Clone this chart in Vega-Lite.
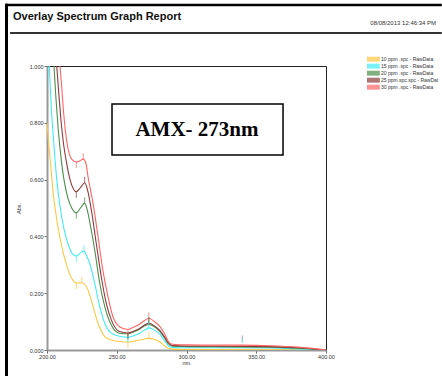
{
  "$schema": "https://vega.github.io/schema/vega-lite/v6.json",
  "width": 279,
  "height": 284,
  "autosize": "none",
  "padding": {"left": 47, "top": 66, "right": 116, "bottom": 26},
  "background": "white",
  "title": {
    "text": "Overlay Spectrum Graph Report",
    "anchor": "start",
    "frame": "group",
    "font": "Liberation Sans",
    "fontSize": 11,
    "fontWeight": "bold",
    "color": "#111",
    "dx": -34,
    "dy": 20,
    "offset": 0
  },
  "config": {
    "view": {"stroke": "#222", "strokeWidth": 1},
    "axis": {
      "labelFont": "Liberation Sans",
      "titleFont": "Liberation Sans",
      "labelFontSize": 5.5,
      "titleFontSize": 5.5,
      "titleFontWeight": "normal",
      "labelColor": "#333",
      "titleColor": "#333",
      "tickColor": "#666",
      "grid": false
    }
  },
  "data": {
    "values": [
      {"conc": 10, "nm": 200, "abs": 0.8},
      {"conc": 10, "nm": 201, "abs": 0.74},
      {"conc": 10, "nm": 202.5, "abs": 0.66},
      {"conc": 10, "nm": 204.5, "abs": 0.55},
      {"conc": 10, "nm": 207, "abs": 0.46},
      {"conc": 10, "nm": 209.5, "abs": 0.39},
      {"conc": 10, "nm": 212, "abs": 0.335},
      {"conc": 10, "nm": 215, "abs": 0.285},
      {"conc": 10, "nm": 218, "abs": 0.25},
      {"conc": 10, "nm": 221, "abs": 0.236},
      {"conc": 10, "nm": 223, "abs": 0.236},
      {"conc": 10, "nm": 225, "abs": 0.237},
      {"conc": 10, "nm": 227.5, "abs": 0.228},
      {"conc": 10, "nm": 229.4, "abs": 0.211},
      {"conc": 10, "nm": 233, "abs": 0.153},
      {"conc": 10, "nm": 236.6, "abs": 0.094},
      {"conc": 10, "nm": 241.4, "abs": 0.047},
      {"conc": 10, "nm": 246.1, "abs": 0.035},
      {"conc": 10, "nm": 252, "abs": 0.03},
      {"conc": 10, "nm": 258, "abs": 0.028},
      {"conc": 10, "nm": 262, "abs": 0.031},
      {"conc": 10, "nm": 266, "abs": 0.035},
      {"conc": 10, "nm": 270, "abs": 0.039},
      {"conc": 10, "nm": 273, "abs": 0.041},
      {"conc": 10, "nm": 277, "abs": 0.037},
      {"conc": 10, "nm": 281, "abs": 0.028},
      {"conc": 10, "nm": 284, "abs": 0.016},
      {"conc": 10, "nm": 287, "abs": 0.006},
      {"conc": 10, "nm": 290, "abs": 0.003},
      {"conc": 10, "nm": 300, "abs": 0.002},
      {"conc": 10, "nm": 400, "abs": 0.0},
      {"conc": 15, "nm": 201.6, "abs": 1.0},
      {"conc": 15, "nm": 203, "abs": 0.86},
      {"conc": 15, "nm": 205, "abs": 0.72},
      {"conc": 15, "nm": 207, "abs": 0.6},
      {"conc": 15, "nm": 209.5, "abs": 0.5},
      {"conc": 15, "nm": 212, "abs": 0.43},
      {"conc": 15, "nm": 215, "abs": 0.375},
      {"conc": 15, "nm": 218, "abs": 0.34},
      {"conc": 15, "nm": 221, "abs": 0.331},
      {"conc": 15, "nm": 224, "abs": 0.342},
      {"conc": 15, "nm": 226.5, "abs": 0.348},
      {"conc": 15, "nm": 228.5, "abs": 0.33},
      {"conc": 15, "nm": 230.6, "abs": 0.305},
      {"conc": 15, "nm": 234.2, "abs": 0.235},
      {"conc": 15, "nm": 237.8, "abs": 0.153},
      {"conc": 15, "nm": 242.5, "abs": 0.082},
      {"conc": 15, "nm": 248.5, "abs": 0.053},
      {"conc": 15, "nm": 258, "abs": 0.045},
      {"conc": 15, "nm": 262, "abs": 0.05},
      {"conc": 15, "nm": 266, "abs": 0.058},
      {"conc": 15, "nm": 270, "abs": 0.07},
      {"conc": 15, "nm": 273, "abs": 0.078},
      {"conc": 15, "nm": 277, "abs": 0.07},
      {"conc": 15, "nm": 281, "abs": 0.055},
      {"conc": 15, "nm": 284, "abs": 0.035},
      {"conc": 15, "nm": 287, "abs": 0.015},
      {"conc": 15, "nm": 290, "abs": 0.009},
      {"conc": 15, "nm": 300, "abs": 0.008},
      {"conc": 15, "nm": 330, "abs": 0.008},
      {"conc": 15, "nm": 360, "abs": 0.007},
      {"conc": 15, "nm": 380, "abs": 0.004},
      {"conc": 15, "nm": 400, "abs": 0.0},
      {"conc": 20, "nm": 205, "abs": 1.0},
      {"conc": 20, "nm": 206.5, "abs": 0.88},
      {"conc": 20, "nm": 208, "abs": 0.78},
      {"conc": 20, "nm": 210, "abs": 0.68},
      {"conc": 20, "nm": 212.5, "abs": 0.59},
      {"conc": 20, "nm": 215, "abs": 0.535},
      {"conc": 20, "nm": 218, "abs": 0.497},
      {"conc": 20, "nm": 221, "abs": 0.483},
      {"conc": 20, "nm": 224, "abs": 0.5},
      {"conc": 20, "nm": 227, "abs": 0.517},
      {"conc": 20, "nm": 229, "abs": 0.49},
      {"conc": 20, "nm": 231.3, "abs": 0.434},
      {"conc": 20, "nm": 234.2, "abs": 0.352},
      {"conc": 20, "nm": 237.8, "abs": 0.235},
      {"conc": 20, "nm": 241.4, "abs": 0.153},
      {"conc": 20, "nm": 246.1, "abs": 0.088},
      {"conc": 20, "nm": 252, "abs": 0.059},
      {"conc": 20, "nm": 258, "abs": 0.057},
      {"conc": 20, "nm": 262, "abs": 0.063},
      {"conc": 20, "nm": 266, "abs": 0.072},
      {"conc": 20, "nm": 270, "abs": 0.085},
      {"conc": 20, "nm": 273, "abs": 0.09},
      {"conc": 20, "nm": 277, "abs": 0.082},
      {"conc": 20, "nm": 281, "abs": 0.065},
      {"conc": 20, "nm": 284, "abs": 0.045},
      {"conc": 20, "nm": 287, "abs": 0.022},
      {"conc": 20, "nm": 290, "abs": 0.013},
      {"conc": 20, "nm": 300, "abs": 0.012},
      {"conc": 20, "nm": 330, "abs": 0.011},
      {"conc": 20, "nm": 360, "abs": 0.01},
      {"conc": 20, "nm": 380, "abs": 0.006},
      {"conc": 20, "nm": 400, "abs": 0.0},
      {"conc": 25, "nm": 207, "abs": 1.0},
      {"conc": 25, "nm": 208.5, "abs": 0.9},
      {"conc": 25, "nm": 210, "abs": 0.81},
      {"conc": 25, "nm": 212, "abs": 0.72},
      {"conc": 25, "nm": 214, "abs": 0.66},
      {"conc": 25, "nm": 216.5, "abs": 0.6},
      {"conc": 25, "nm": 219, "abs": 0.567},
      {"conc": 25, "nm": 221, "abs": 0.557},
      {"conc": 25, "nm": 224, "abs": 0.572},
      {"conc": 25, "nm": 227, "abs": 0.589},
      {"conc": 25, "nm": 229, "abs": 0.565},
      {"conc": 25, "nm": 231.8, "abs": 0.493},
      {"conc": 25, "nm": 235.3, "abs": 0.376},
      {"conc": 25, "nm": 238.9, "abs": 0.258},
      {"conc": 25, "nm": 242.5, "abs": 0.164},
      {"conc": 25, "nm": 246.1, "abs": 0.106},
      {"conc": 25, "nm": 252, "abs": 0.065},
      {"conc": 25, "nm": 258, "abs": 0.06},
      {"conc": 25, "nm": 262, "abs": 0.066},
      {"conc": 25, "nm": 266, "abs": 0.075},
      {"conc": 25, "nm": 270, "abs": 0.088},
      {"conc": 25, "nm": 273, "abs": 0.094},
      {"conc": 25, "nm": 277, "abs": 0.085},
      {"conc": 25, "nm": 281, "abs": 0.068},
      {"conc": 25, "nm": 284, "abs": 0.048},
      {"conc": 25, "nm": 287, "abs": 0.025},
      {"conc": 25, "nm": 290, "abs": 0.016},
      {"conc": 25, "nm": 300, "abs": 0.014},
      {"conc": 25, "nm": 330, "abs": 0.013},
      {"conc": 25, "nm": 360, "abs": 0.012},
      {"conc": 25, "nm": 380, "abs": 0.008},
      {"conc": 25, "nm": 400, "abs": 0.0},
      {"conc": 30, "nm": 209.3, "abs": 1.0},
      {"conc": 30, "nm": 210.5, "abs": 0.93},
      {"conc": 30, "nm": 212, "abs": 0.83},
      {"conc": 30, "nm": 214, "abs": 0.74},
      {"conc": 30, "nm": 216, "abs": 0.69},
      {"conc": 30, "nm": 218, "abs": 0.67},
      {"conc": 30, "nm": 221, "abs": 0.662},
      {"conc": 30, "nm": 223.5, "abs": 0.666},
      {"conc": 30, "nm": 226, "abs": 0.672},
      {"conc": 30, "nm": 228, "abs": 0.655},
      {"conc": 30, "nm": 229.4, "abs": 0.61},
      {"conc": 30, "nm": 233, "abs": 0.517},
      {"conc": 30, "nm": 236.6, "abs": 0.399},
      {"conc": 30, "nm": 240, "abs": 0.282},
      {"conc": 30, "nm": 243.7, "abs": 0.188},
      {"conc": 30, "nm": 247.3, "abs": 0.117},
      {"conc": 30, "nm": 252, "abs": 0.082},
      {"conc": 30, "nm": 258, "abs": 0.072},
      {"conc": 30, "nm": 262, "abs": 0.08},
      {"conc": 30, "nm": 266, "abs": 0.09},
      {"conc": 30, "nm": 270, "abs": 0.104},
      {"conc": 30, "nm": 273, "abs": 0.112},
      {"conc": 30, "nm": 277, "abs": 0.1},
      {"conc": 30, "nm": 281, "abs": 0.082},
      {"conc": 30, "nm": 284, "abs": 0.06},
      {"conc": 30, "nm": 287, "abs": 0.03},
      {"conc": 30, "nm": 290, "abs": 0.02},
      {"conc": 30, "nm": 300, "abs": 0.018},
      {"conc": 30, "nm": 320, "abs": 0.017},
      {"conc": 30, "nm": 340, "abs": 0.017},
      {"conc": 30, "nm": 360, "abs": 0.015},
      {"conc": 30, "nm": 380, "abs": 0.01},
      {"conc": 30, "nm": 400, "abs": 0.0}
    ]
  },
  "layer": [
    {
      "mark": {"type": "line", "interpolate": "monotone", "strokeWidth": 1.1, "clip": true},
      "encoding": {
        "x": {
          "field": "nm", "type": "quantitative",
          "scale": {"domain": [200, 400], "nice": false, "zero": false},
          "axis": {
            "values": [200, 250, 300, 350, 400], "format": ".2f", "title": "nm.",
            "tickSize": 3, "labelPadding": 1, "titlePadding": 1,
            "domainColor": "#999", "domainWidth": 2, "labelFlush": false
          }
        },
        "y": {
          "field": "abs", "type": "quantitative",
          "scale": {"domain": [0, 1], "nice": false},
          "axis": {
            "values": [0, 0.2, 0.4, 0.6, 0.8, 1.0], "format": ".3f", "title": "Abs.",
            "tickSize": 3, "labelPadding": 1, "titlePadding": 8,
            "domainColor": "#999", "domainWidth": 2, "labelFlush": false
          }
        },
        "color": {
          "field": "conc", "type": "nominal",
          "scale": {"domain": [10, 15, 20, 25, 30], "range": ["#FFC642", "#3FEBF5", "#4A8F4A", "#8E3B3B", "#FF6464"]},
          "legend": {
            "orient": "none", "legendX": 320, "legendY": -10,
            "title": null,
            "labelExpr": "datum.label == '25' ? '25 ppm.spc.spc - RawDat' : datum.label + ' ppm .spc - RawData'",
            "labelFont": "Liberation Sans", "labelFontSize": 5, "labelColor": "#333",
            "labelOffset": 7, "rowPadding": 0, "clipHeight": 6.3,
            "symbolType": "M-3,-0.7H3V0.7H-3Z", "symbolSize": 36,
            "symbolStrokeColor": "#222", "symbolStrokeWidth": 0.7, "symbolOpacity": 1
          }
        }
      }
    },
    {
      "data": {"values": [
        {"conc": 30, "nm": 226, "abs": 0.672}, {"conc": 30, "nm": 273, "abs": 0.112},
        {"conc": 25, "nm": 227, "abs": 0.589}, {"conc": 25, "nm": 273, "abs": 0.094},
        {"conc": 20, "nm": 227, "abs": 0.517}, {"conc": 20, "nm": 273, "abs": 0.09},
        {"conc": 15, "nm": 226.5, "abs": 0.348}, {"conc": 15, "nm": 273, "abs": 0.078},
        {"conc": 10, "nm": 225, "abs": 0.237}, {"conc": 10, "nm": 273, "abs": 0.041},
        {"conc": 30, "nm": 340, "abs": 0.03}, {"conc": 15, "nm": 340, "abs": 0.025}
      ]},
      "mark": {"type": "tick", "orient": "vertical", "size": 6, "thickness": 1, "yOffset": -3, "clip": true},
      "encoding": {
        "x": {"field": "nm", "type": "quantitative"},
        "y": {"field": "abs", "type": "quantitative"},
        "color": {"field": "conc", "type": "nominal"}
      }
    },
    {
      "data": {"values": [
        {"conc": 30, "nm": 221, "abs": 0.662}, {"conc": 30, "nm": 258, "abs": 0.072},
        {"conc": 25, "nm": 221, "abs": 0.557}, {"conc": 25, "nm": 258, "abs": 0.06},
        {"conc": 20, "nm": 221, "abs": 0.483}, {"conc": 20, "nm": 258, "abs": 0.057},
        {"conc": 15, "nm": 221, "abs": 0.331}, {"conc": 15, "nm": 258, "abs": 0.045},
        {"conc": 10, "nm": 221, "abs": 0.236}, {"conc": 10, "nm": 258, "abs": 0.028}
      ]},
      "mark": {"type": "tick", "orient": "vertical", "size": 6, "thickness": 1, "yOffset": 3, "clip": true},
      "encoding": {
        "x": {"field": "nm", "type": "quantitative"},
        "y": {"field": "abs", "type": "quantitative"},
        "color": {"field": "conc", "type": "nominal"}
      }
    },
    {
      "data": {"values": [{}]},
      "mark": {"type": "rule", "color": "#333", "strokeWidth": 2, "clip": false},
      "encoding": {
        "x": {"datum": 173.5, "type": "quantitative"},
        "x2": {"datum": 483},
        "y": {"datum": 1.116, "type": "quantitative"}
      }
    },
    {
      "data": {"values": [{}]},
      "mark": {"type": "rule", "color": "#000", "strokeWidth": 2.5, "clip": false},
      "encoding": {
        "x": {"datum": 170.2, "type": "quantitative"},
        "x2": {"datum": 483},
        "y": {"datum": 1.2148, "type": "quantitative"}
      }
    },
    {
      "data": {"values": [{}]},
      "mark": {"type": "rule", "color": "#000", "strokeWidth": 3, "clip": false},
      "encoding": {
        "x": {"datum": 170.97, "type": "quantitative"},
        "y": {"datum": 1.219, "type": "quantitative"},
        "y2": {"datum": -0.1}
      }
    },
    {
      "data": {"values": [{}]},
      "mark": {"type": "rect", "fill": "white", "stroke": "#000", "strokeWidth": 1.5, "clip": false},
      "encoding": {
        "x": {"datum": 246.6, "type": "quantitative"},
        "x2": {"datum": 369.2},
        "y": {"datum": 0.866, "type": "quantitative"},
        "y2": {"datum": 0.687}
      }
    },
    {
      "data": {"values": [{"label": "AMX- 273nm"}]},
      "mark": {"type": "text", "font": "Liberation Serif", "fontWeight": "bold", "fontSize": 21, "align": "center", "baseline": "alphabetic", "color": "#000"},
      "encoding": {
        "x": {"datum": 307.5, "type": "quantitative"},
        "y": {"datum": 0.7518, "type": "quantitative"},
        "text": {"field": "label"}
      }
    },
    {
      "data": {"values": [{"label": "08/08/2013  12:46:34 PM"}]},
      "mark": {"type": "text", "font": "Liberation Sans", "fontSize": 6, "align": "right", "baseline": "alphabetic", "color": "#333", "clip": false},
      "encoding": {
        "x": {"datum": 478.9, "type": "quantitative"},
        "y": {"datum": 1.144, "type": "quantitative"},
        "text": {"field": "label"}
      }
    }
  ]
}
